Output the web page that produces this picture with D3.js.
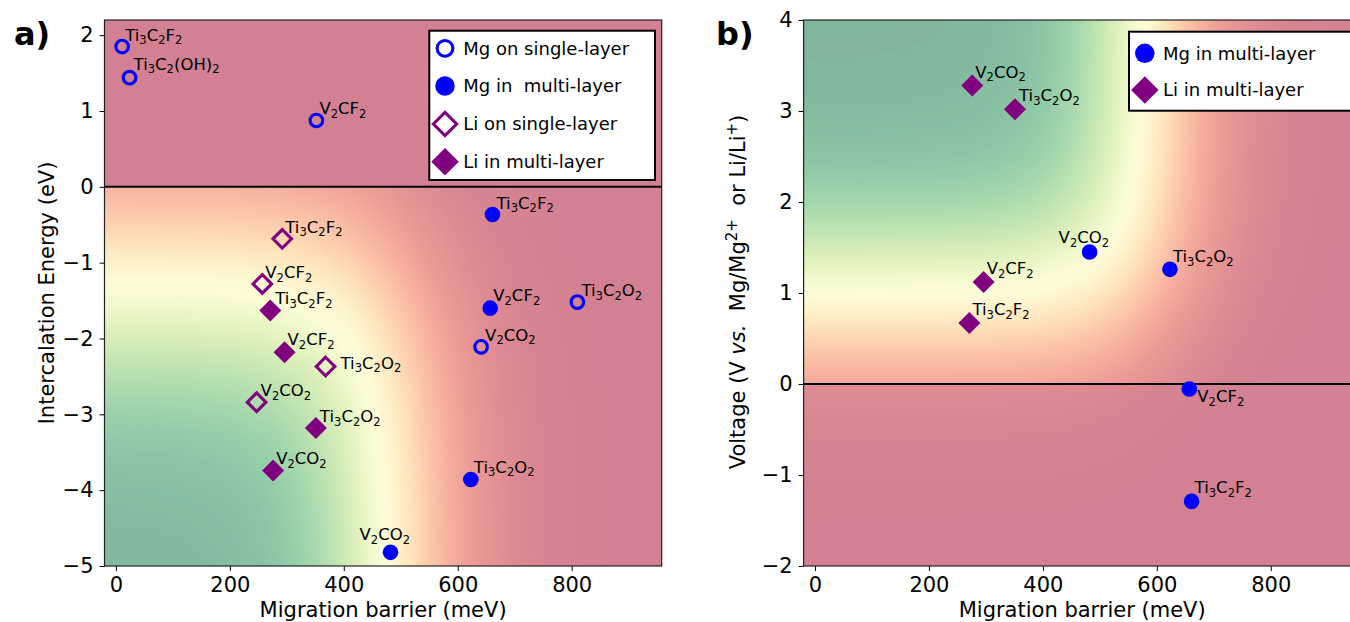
<!DOCTYPE html>
<html>
<head>
<meta charset="utf-8">
<script src="https://cdn.jsdelivr.net/npm/d3@7"></script>
<style>
  body { margin: 0; background: #fff; overflow: hidden; }
  text { font-family: "DejaVu Sans", sans-serif; fill: #000; }
</style>
</head>
<body>
<div id="fig"></div>
<script>
//---------------- data ----------------------
// a) intercalation energy vs migration barrier
var mgSingleNames   = ["Ti_3C_2F_2", "Ti_3C_2(OH)_2", "V_2CF_2", "Ti_3C_2O_2", "V_2CO_2"];
var mgSingleBarrier = [11, 24, 352, 810, 641];
var mgSingleEnergy  = [1.85, 1.44, 0.875, -1.52, -2.11];

var mgMultiNames   = ["Ti_3C_2F_2", "V_2CF_2", "Ti_3C_2O_2", "V_2CO_2"];
var mgMultiBarrier = [661, 657, 623, 482];
var mgMultiEnergy  = [-0.365, -1.60, -3.86, -4.82];
var mgMultiVoltage = [-1.29, -0.055, 1.26, 1.45];

var liSingleNames   = ["Ti_3C_2F_2", "V_2CF_2", "Ti_3C_2O_2", "V_2CO_2"];
var liSingleBarrier = [292, 257, 368, 247];
var liSingleEnergy  = [-0.686, -1.28, -2.37, -2.84];

var liMultiNames   = ["Ti_3C_2F_2", "V_2CF_2", "Ti_3C_2O_2", "V_2CO_2"];
var liMultiBarrier = [271, 296, 351, 276];
var liMultiEnergy  = [-1.63, -2.18, -3.18, -3.74];
var liMultiVoltage = [0.67, 1.12, 3.02, 3.28];

var xTicks  = [0, 200, 400, 600, 800];
var yTicksA = [-5, -4, -3, -2, -1, 0, 1, 2];
var yTicksB = [-2, -1, 0, 1, 2, 3, 4];

var legendA = ["Mg on single-layer", "Mg in  multi-layer", "Li on single-layer", "Li in multi-layer"];
var legendB = ["Mg in multi-layer", "Li in multi-layer"];

// label offsets (px) from the marker, one per point
var offMgSingle = [[3, -6], [4, -8], [3, -6], [4, -6], [4, -6]];
var offMgMultiA = [[4, -6], [3, -7], [3, -7], [-31, -12]];
var offLiSingle = [[3, -6], [3, -6], [15, 2], [4, -6]];
var offLiMultiA = [[5, -6], [3, -7], [4, -6], [3, -6]];
var offMgMultiB = [[3, -8], [8, 13], [3, -7], [-31, -9]];
var offLiMultiB = [[3, -8], [3, -8], [4, -8], [3, -8]];

//---------------- layout ----------------------
var W = 1350, H = 622;
var blue = "#0000ff", purple = "#800080";
var tickFont = 21, labelFont = 16.5;

var svg = d3.select("#fig").append("svg")
	.attr("width", W).attr("height", H);

var xA = d3.scaleLinear().domain([-20, 958]).range([104.5, 661.7]);
var yA = d3.scaleLinear().domain([-5, 2.2]).range([566, 20]);
var xB = d3.scaleLinear().domain([-20, 958]).range([803.6, 1360.8]);
var yB = d3.scaleLinear().domain([-2, 4]).range([566, 20]);

//---------------- background field ----------------------
var lut = d3.range(256).map(function(i) {
	var c = d3.rgb(d3.interpolateRdYlGn(i / 255));
	// alpha 0.5 over white
	return [(c.r + 255) / 2, (c.g + 255) / 2, (c.b + 255) / 2];
});

function sig(v) { return 1 / (1 + Math.exp(-v)); }

var fieldA = function(b, e) {
	if (e > 0) return 0;
	return sig(-(b - 475) / 75) * sig(-(e + 1.3) / 0.9);
};
var fieldB = function(b, v) {
	var d = sig(-(b - 575) / 70) * sig((v - 1.0) / 0.6);
	return v < 0 ? d * 0.35 : d;
};

function drawField(g, x, y, fn) {
	var x0 = x.range()[0], y0 = y.range()[1];
	var w = Math.round(x.range()[1] - x0), h = Math.round(y.range()[0] - y0);
	var canvas = document.createElement("canvas");
	canvas.width = w; canvas.height = h;
	var ctx = canvas.getContext("2d");
	var img = ctx.createImageData(w, h);
	for (var j = 0; j < h; j++) {
		var yv = y.invert(y0 + j + 0.5);
		for (var i = 0; i < w; i++) {
			var d = fn(x.invert(x0 + i + 0.5), yv);
			var c = lut[Math.max(0, Math.min(255, Math.round(d * 255)))];
			var k = (j * w + i) * 4;
			img.data[k] = c[0]; img.data[k + 1] = c[1]; img.data[k + 2] = c[2]; img.data[k + 3] = 255;
		}
	}
	ctx.putImageData(img, 0, 0);
	g.append("image")
		.attr("x", x0).attr("y", y0)
		.attr("width", w).attr("height", h)
		.attr("preserveAspectRatio", "none")
		.attr("href", canvas.toDataURL());
}

//---------------- helpers ----------------------
// "_X" -> subscript, "^{..}" -> superscript
function richText(t, str, size) {
	var re = /_(.)|\^\{([^}]*)\}|([^_^]+)/g, m, shift = 0;
	while ((m = re.exec(str)) !== null) {
		var ts = t.append("tspan");
		if (m[1] !== undefined) {
			ts.attr("font-size", size * 0.7).attr("dy", size * 0.22 - shift).text(m[1]);
			shift = size * 0.22;
		} else if (m[2] !== undefined) {
			ts.attr("font-size", size * 0.7).attr("dy", -size * 0.4 - shift).text(m[2]);
			shift = -size * 0.4;
		} else {
			ts.attr("dy", -shift).text(m[3]);
			shift = 0;
		}
	}
}

var symDiamond = function(r) {
	return "M0," + (-r) + "L" + r + ",0L0," + r + "L" + (-r) + ",0Z";
};

function drawMarker(g, kind, cx, cy, s) {
	s = s || 1;
	if (kind === "openCircle") {
		g.append("circle").attr("cx", cx).attr("cy", cy).attr("r", 6.3 * s)
			.attr("fill", "none").attr("stroke", blue).attr("stroke-width", 3.1);
	} else if (kind === "circle") {
		g.append("circle").attr("cx", cx).attr("cy", cy).attr("r", 7.8 * s)
			.attr("fill", blue);
	} else if (kind === "openDiamond") {
		g.append("path").attr("d", symDiamond(9.3 * s))
			.attr("transform", "translate(" + cx + "," + cy + ")")
			.attr("fill", "none").attr("stroke", purple).attr("stroke-width", 3.1)
			.attr("stroke-linejoin", "miter");
	} else {
		g.append("path").attr("d", symDiamond(11 * s))
			.attr("transform", "translate(" + cx + "," + cy + ")")
			.attr("fill", purple);
	}
}

function drawSeries(g, x, y, kind, names, xs, ys, offs) {
	var pts = g.append("g");
	xs.forEach(function(v, i) {
		drawMarker(pts, kind, x(v), y(ys[i]));
	});
	var labels = g.append("g");
	names.forEach(function(n, i) {
		var t = labels.append("text")
			.attr("x", x(xs[i]) + offs[i][0])
			.attr("y", y(ys[i]) + offs[i][1])
			.attr("font-size", labelFont);
		richText(t, n, labelFont);
	});
}

function drawAxes(g, x, y, yTicks) {
	g.append("g")
		.attr("transform", "translate(0," + y.range()[0] + ")")
		.call(d3.axisBottom(x).tickValues(xTicks).tickFormat(d3.format("d"))
			.tickSize(5).tickPadding(6.5).tickSizeOuter(0))
		.call(function(a) {
			a.select(".domain").remove();
			a.selectAll("text").attr("font-size", tickFont).attr("font-family", "DejaVu Sans");
		});
	g.append("g")
		.attr("transform", "translate(" + x.range()[0] + ",0)")
		.call(d3.axisLeft(y).tickValues(yTicks).tickFormat(d3.format("d"))
			.tickSize(5).tickPadding(6).tickSizeOuter(0))
		.call(function(a) {
			a.select(".domain").remove();
			a.selectAll("text").attr("font-size", tickFont).attr("font-family", "DejaVu Sans");
		});
	// zero line
	g.append("line")
		.attr("x1", x.range()[0]).attr("x2", x.range()[1])
		.attr("y1", y(0)).attr("y2", y(0))
		.attr("stroke", "#000").attr("stroke-width", 2);
	// frame
	g.append("rect")
		.attr("x", x.range()[0]).attr("y", y.range()[1])
		.attr("width", x.range()[1] - x.range()[0])
		.attr("height", y.range()[0] - y.range()[1])
		.attr("fill", "none").attr("stroke", "#222").attr("stroke-width", 1.2);
}

function drawLegend(g, x0, y0, w, h, kinds, labels, rowY, mx, tx) {
	g.append("rect").attr("x", x0).attr("y", y0).attr("width", w).attr("height", h)
		.attr("fill", "#fff").attr("stroke", "#000").attr("stroke-width", 2);
	kinds.forEach(function(k, i) {
		drawMarker(g, k, mx, rowY[i], 1.25);
		g.append("text").attr("x", tx).attr("y", rowY[i]).attr("dy", "0.36em")
			.attr("font-size", 18).style("white-space", "pre").text(labels[i]);
	});
}

//---------------- panel a ----------------------
var gA = svg.append("g");
drawField(gA, xA, yA, fieldA);
drawAxes(gA, xA, yA, yTicksA);
drawSeries(gA, xA, yA, "openCircle", mgSingleNames, mgSingleBarrier, mgSingleEnergy, offMgSingle);
drawSeries(gA, xA, yA, "circle", mgMultiNames, mgMultiBarrier, mgMultiEnergy, offMgMultiA);
drawSeries(gA, xA, yA, "openDiamond", liSingleNames, liSingleBarrier, liSingleEnergy, offLiSingle);
drawSeries(gA, xA, yA, "diamond", liMultiNames, liMultiBarrier, liMultiEnergy, offLiMultiA);
drawLegend(gA, 429.3, 30.7, 225.7, 149.3,
	["openCircle", "circle", "openDiamond", "diamond"], legendA,
	[48.3, 86, 124, 161.7], 445, 463.3);

gA.append("text")
	.attr("transform", "translate(53.5,293) rotate(-90)")
	.attr("text-anchor", "middle").attr("font-size", tickFont)
	.text("Intercalation Energy (eV)");
gA.append("text")
	.attr("x", (xA.range()[0] + xA.range()[1]) / 2).attr("y", 617)
	.attr("text-anchor", "middle").attr("font-size", tickFont)
	.text("Migration barrier (meV)");
gA.append("text").attr("x", 14).attr("y", 45)
	.attr("font-size", 32).attr("font-weight", "bold").text("a)");

//---------------- panel b ----------------------
var gB = svg.append("g");
drawField(gB, xB, yB, fieldB);
drawAxes(gB, xB, yB, yTicksB);
drawSeries(gB, xB, yB, "circle", mgMultiNames, mgMultiBarrier, mgMultiVoltage, offMgMultiB);
drawSeries(gB, xB, yB, "diamond", liMultiNames, liMultiBarrier, liMultiVoltage, offLiMultiB);
drawLegend(gB, 1129, 31.7, 236, 79,
	["circle", "diamond"], legendB,
	[53.3, 90], 1144.8, 1163);

var yLabB = gB.append("text")
	.attr("transform", "translate(745,292) rotate(-90)")
	.attr("text-anchor", "middle").attr("font-size", tickFont)
	.style("white-space", "pre");
yLabB.append("tspan").text("Voltage (V ");
yLabB.append("tspan").attr("font-style", "italic").text("vs.");
yLabB.append("tspan").text("  Mg/Mg");
yLabB.append("tspan").attr("font-size", 15).attr("dy", -8).text("2+");
yLabB.append("tspan").attr("dy", 8).text("  or Li/Li");
yLabB.append("tspan").attr("font-size", 15).attr("dy", -8).text("+");
yLabB.append("tspan").attr("dy", 8).text(")");

gB.append("text")
	.attr("x", (xB.range()[0] + xB.range()[1]) / 2).attr("y", 617)
	.attr("text-anchor", "middle").attr("font-size", tickFont)
	.text("Migration barrier (meV)");
gB.append("text").attr("x", 716).attr("y", 45)
	.attr("font-size", 32).attr("font-weight", "bold").text("b)");
</script>
</body>
</html>
